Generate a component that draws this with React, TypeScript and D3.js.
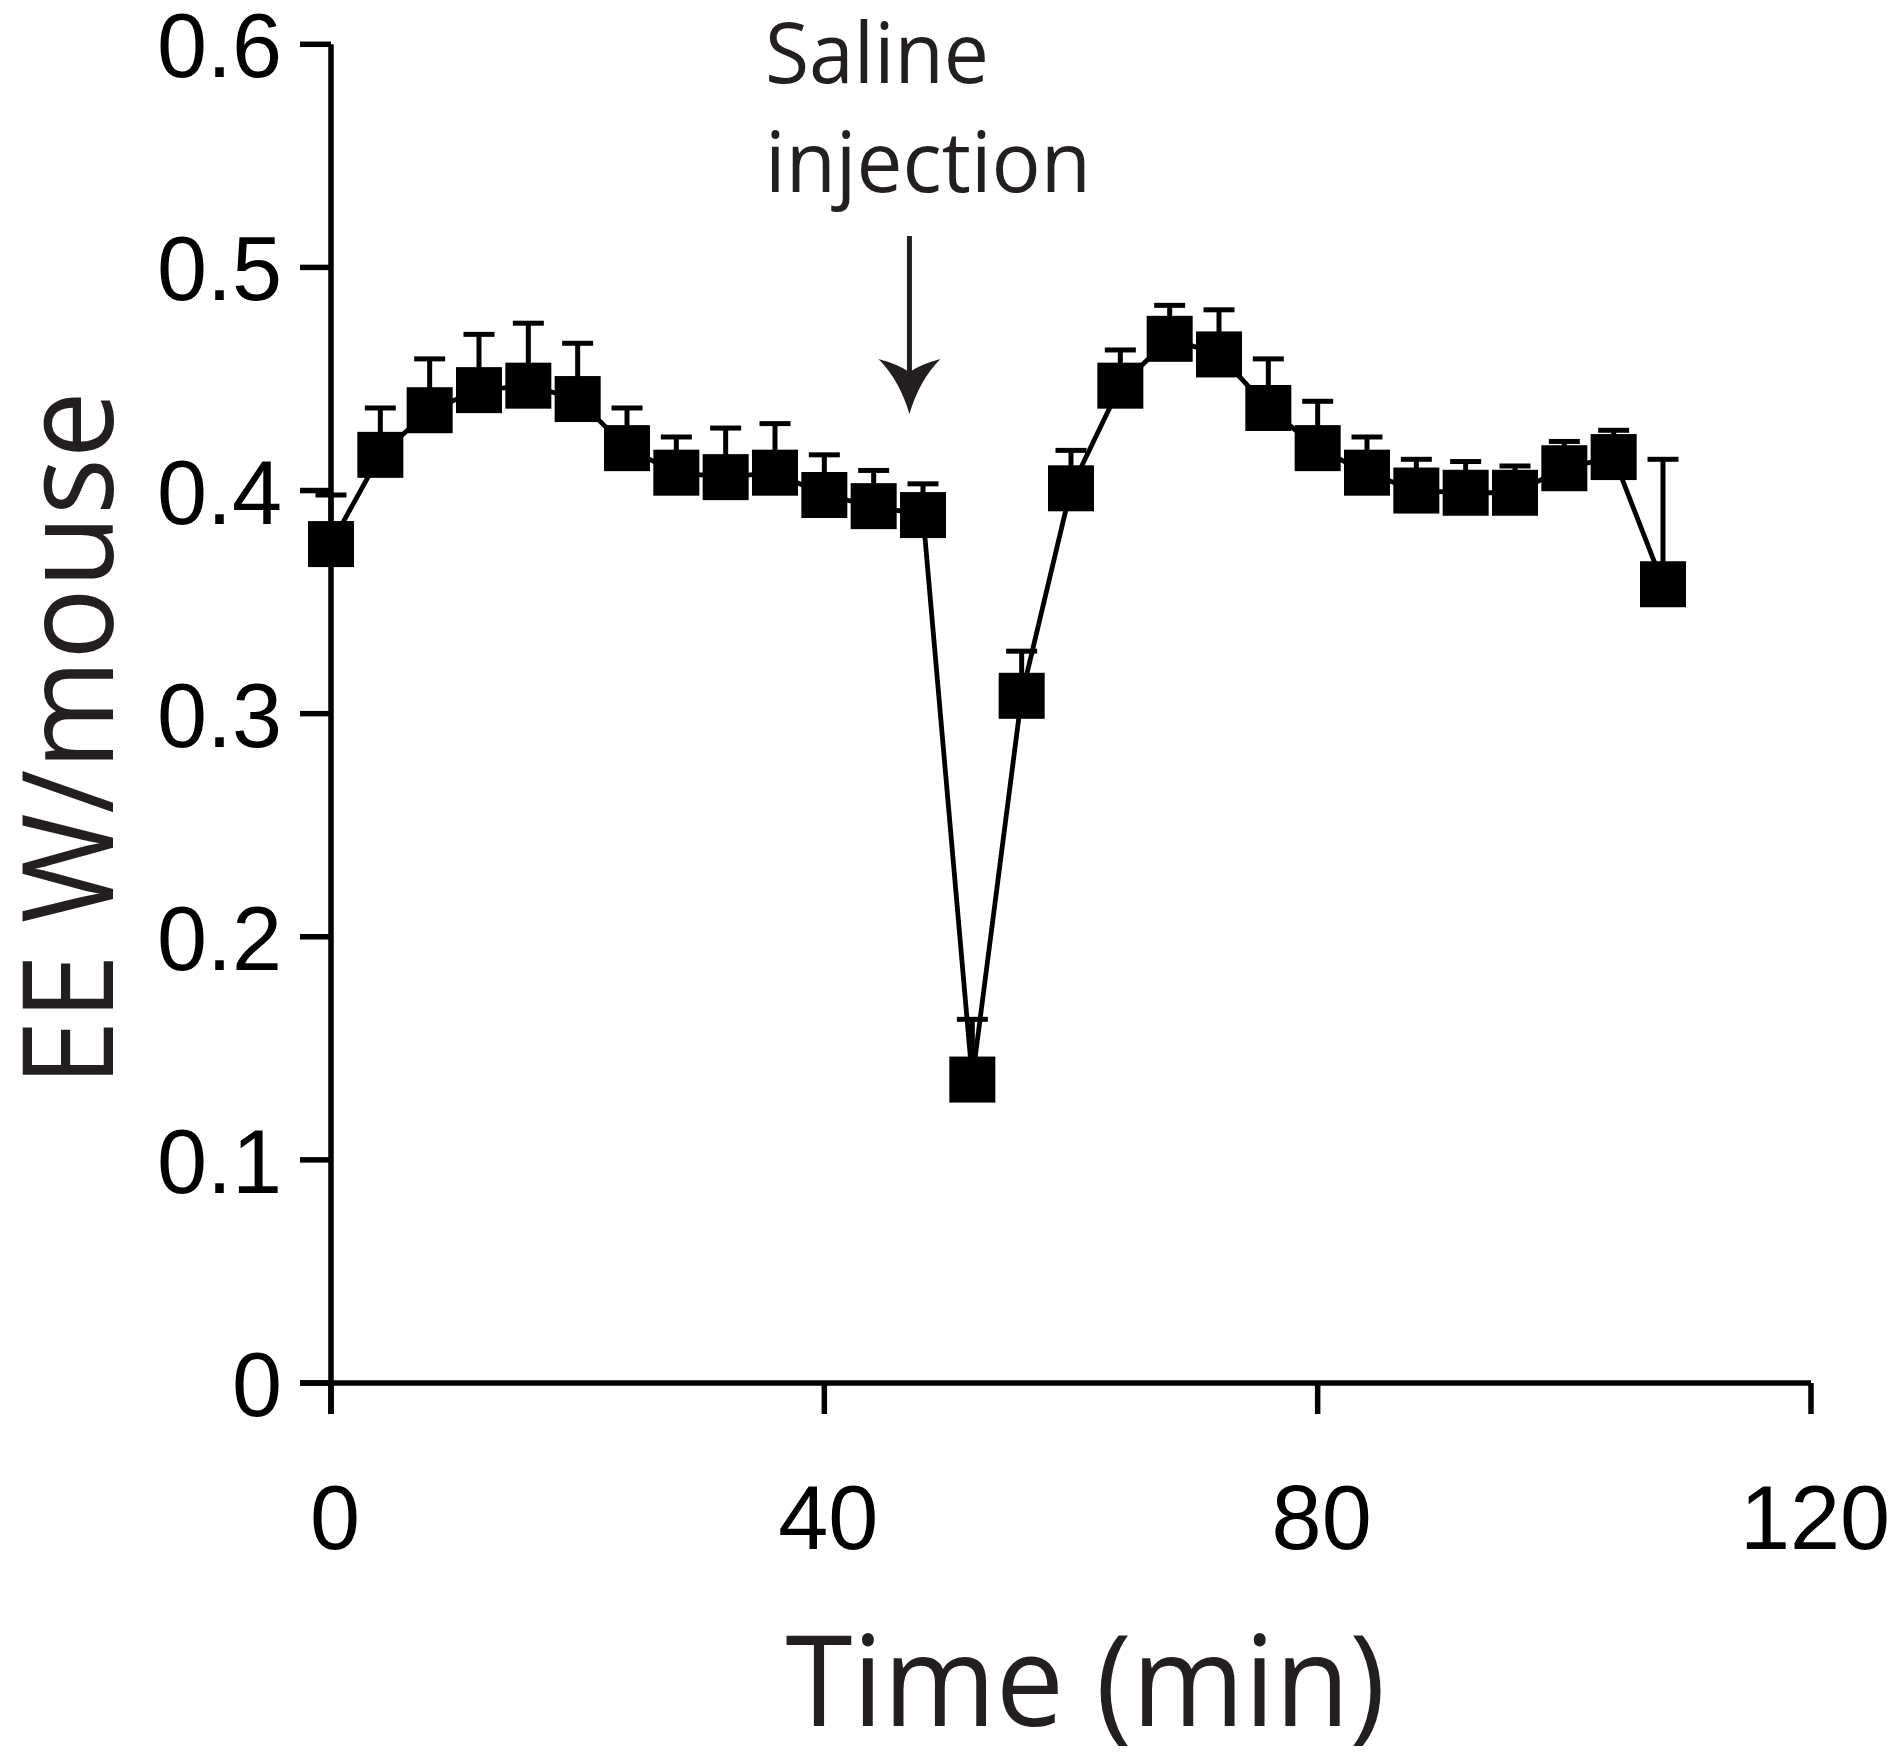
import * as d3 from 'd3';

// Energy expenditure per mouse, every 4 min, saline injected at ~47 min
const timeMin = [
  0, 4, 8, 12, 16, 20, 24, 28, 32, 36, 40, 44, 48, 52,
  56, 60, 64, 68, 72, 76, 80, 84, 88, 92, 96, 100, 104, 108
];
const meanEE = [
  0.376, 0.416, 0.436, 0.445, 0.447, 0.441, 0.419, 0.408, 0.406, 0.408, 0.398, 0.393, 0.389, 0.136,
  0.308, 0.401, 0.447, 0.468, 0.461, 0.437, 0.419, 0.408, 0.400, 0.399, 0.399, 0.410, 0.415, 0.358
];
const semEE = [
  0.022, 0.021, 0.023, 0.025, 0.028, 0.025, 0.018, 0.016, 0.022, 0.022, 0.018, 0.016, 0.014, 0.027,
  0.020, 0.017, 0.016, 0.015, 0.020, 0.022, 0.021, 0.016, 0.014, 0.014, 0.012, 0.012, 0.012, 0.056
];
const xTicks = [0, 40, 80, 120];
const yTicks = [0, 0.1, 0.2, 0.3, 0.4, 0.5, 0.6];
const yTickLabels = ['0', '0.1', '0.2', '0.3', '0.4', '0.5', '0.6'];
const injectionTime = 46.9;

const W = 1890;
const H = 1760;
const ink = '#231f20';
const numFont = '"Liberation Sans", Arial, sans-serif';
const titleFont = '"Open Sans", sans-serif';

export default function App(): JSX.Element {
  const x = d3.scaleLinear().domain([0, 120]).range([331, 1811]);
  const y = d3.scaleLinear().domain([0, 0.6]).range([1383, 44.3]);

  const pts = timeMin.map((t, i) => ({ t, m: meanEE[i], e: semEE[i] }));
  const line = d3
    .line<{ t: number; m: number }>()
    .x((d) => x(d.t))
    .y((d) => y(d.m));

  const tickLen = 31;
  const sq = 46;
  const cap = 31;
  const arrowX = x(injectionTime);

  return (
    <svg
      xmlns="http://www.w3.org/2000/svg"
      width={W}
      height={H}
      style={{ position: 'absolute', left: 0, top: 0, background: '#fff' }}
    >
      <rect width={W} height={H} fill="#fff" />

      {/* axes */}
      <g stroke="#000" strokeWidth={5.5} fill="none">
        <line x1={x(0)} x2={x(0)} y1={y(0.6)} y2={y(0) + tickLen} />
        <line x1={x(0) - tickLen} x2={x(120)} y1={y(0)} y2={y(0)} />
        {yTicks.map((v) => (
          <line key={v} x1={x(0) - tickLen} x2={x(0)} y1={y(v)} y2={y(v)} />
        ))}
        {xTicks.map((v) => (
          <line key={v} x1={x(v)} x2={x(v)} y1={y(0)} y2={y(0) + tickLen} />
        ))}
      </g>
      <g fontFamily={numFont} fontSize={90} fill="#000">
        {yTicks.map((v, i) => (
          <text key={v} x={282} y={y(v) + 33} textAnchor="end">
            {yTickLabels[i]}
          </text>
        ))}
        {xTicks.map((v) => (
          <text key={v} x={x(v) + 4} y={1549} textAnchor="middle">
            {v}
          </text>
        ))}
      </g>

      {/* error bars (upper only) */}
      <g stroke="#000" strokeWidth={5} fill="none">
        {pts.map((d) => (
          <g key={d.t}>
            <line x1={x(d.t)} x2={x(d.t)} y1={y(d.m)} y2={y(d.m + d.e)} />
            <line x1={x(d.t) - cap / 2} x2={x(d.t) + cap / 2} y1={y(d.m + d.e)} y2={y(d.m + d.e)} />
          </g>
        ))}
      </g>

      <path d={line(pts) as string} fill="none" stroke="#000" strokeWidth={4.8} />

      <g fill="#000">
        {pts.map((d) => (
          <rect key={d.t} x={x(d.t) - sq / 2} y={y(d.m) - sq / 2} width={sq} height={sq} />
        ))}
      </g>

      {/* injection annotation */}
      <g fill={ink} fontFamily={titleFont} fontSize={84}>
        <text x={765} y={82.7} textLength={224} lengthAdjust="spacingAndGlyphs">
          Saline
        </text>
        <text x={765} y={191.7} textLength={326} lengthAdjust="spacingAndGlyphs">
          injection
        </text>
      </g>
      <line x1={arrowX} x2={arrowX} y1={236} y2={375} stroke={ink} strokeWidth={5} />
      <path
        d={`M${arrowX - 31},359 Q${arrowX - 10},380 ${arrowX},414 Q${arrowX + 10},380 ${arrowX + 31},359 Q${arrowX + 12},364 ${arrowX},372 Q${arrowX - 12},364 ${arrowX - 31},359 Z`}
        fill={ink}
      />

      {/* axis titles */}
      <text
        x={1085.5}
        y={1726}
        textAnchor="middle"
        fontFamily={titleFont}
        fontSize={127}
        fill={ink}
        textLength={600}
        lengthAdjust="spacingAndGlyphs"
      >
        Time (min)
      </text>
      <text
        transform="translate(113.3,739) rotate(-90)"
        textAnchor="middle"
        fontFamily={titleFont}
        fontSize={127}
        fill={ink}
        textLength={695}
        lengthAdjust="spacingAndGlyphs"
      >
        EE W/mouse
      </text>
    </svg>
  );
}
